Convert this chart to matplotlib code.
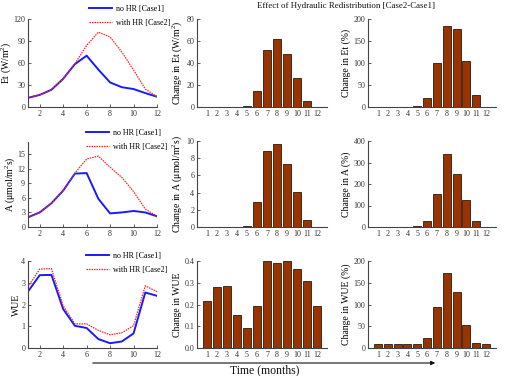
import matplotlib
matplotlib.use("Agg")
import matplotlib.pyplot as plt
import numpy as np

months = list(range(1, 13))

et_case1 = [12.5, 16.5, 23.5, 38.5, 58.5, 70.0, 51.0, 33.5, 27.0, 24.5, 19.0, 14.0]
et_case2 = [12.5, 16.5, 23.5, 38.5, 59.0, 84.0, 102.0, 95.5, 75.0, 50.5, 24.5, 14.0]
a_case1 = [2.0, 3.0, 4.9, 7.5, 11.0, 11.1, 5.8, 2.8, 3.0, 3.3, 3.0, 2.2]
a_case2 = [2.0, 3.0, 4.9, 7.5, 11.1, 14.0, 14.6, 12.3, 10.2, 7.3, 3.7, 2.2]
wue_case1 = [2.6, 3.35, 3.36, 1.79, 1.02, 0.92, 0.41, 0.22, 0.30, 0.67, 2.55, 2.40]
wue_case2 = [2.82, 3.63, 3.65, 1.94, 1.11, 1.11, 0.81, 0.61, 0.70, 1.03, 2.86, 2.59]

et_change = [0.1, 0.1, 0.1, 0.1, 0.8, 15.0, 51.5, 62.0, 48.5, 26.0, 5.5, 0.1]
et_pct = [0.5, 0.5, 0.5, 0.5, 1.5, 21.0, 101.0, 185.0, 177.0, 105.0, 26.5, 0.5]
a_change = [0.02, 0.02, 0.02, 0.02, 0.1, 2.95, 8.8, 9.6, 7.35, 4.1, 0.78, 0.02]
a_pct = [1, 1, 1, 1, 3, 29, 152, 340, 248, 126, 27, 1]
wue_change = [0.217, 0.282, 0.285, 0.154, 0.092, 0.191, 0.398, 0.392, 0.400, 0.362, 0.310, 0.194]
wue_pct = [8.5, 8.5, 8.5, 8.6, 9.0, 22.0, 95.0, 173.0, 128.0, 54.0, 11.5, 8.5]

FONT = "Liberation Serif"
plt.rcParams['font.family'] = [FONT, 'DejaVu Serif']
plt.rcParams['mathtext.fontset'] = 'custom'
plt.rcParams['mathtext.rm'] = FONT
plt.rcParams['mathtext.it'] = FONT + ':italic'

W, H = 509, 376
fig = plt.figure(figsize=(W / 100, H / 100), dpi=100)

def pos(x0, x1, ytop, ybot):
    return [x0 / W, 1 - ybot / H, (x1 - x0) / W, (ybot - ytop) / H]

cols = [(28, 157), (197, 327), (368, 496)]
rows = [(19, 107), (141, 227), (261, 348)]

bar_color = '#993300'
tick_fs = 5.8
lab_fs = 7.0

def style(ax):
    for s in ['top', 'right']:
        ax.spines[s].set_visible(False)
    for s in ['left', 'bottom']:
        ax.spines[s].set_color('#444444')
        ax.spines[s].set_linewidth(0.8)
    ax.tick_params(direction='in', length=2, width=0.6, labelsize=tick_fs,
                   colors='#444444', labelcolor='#333333', pad=2)

line_specs = [
    (et_case1, et_case2, 'Et (W/m$^2$)', (0, 120), [0, 30, 60, 90, 120]),
    (a_case1, a_case2, 'A (μmol/m$^2$s)', (0, 17.5), [0, 3, 6, 9, 12, 15]),
    (wue_case1, wue_case2, 'WUE', (0, 4), [0, 1, 2, 3, 4]),
]
bar_specs = [
    (et_change, 'Change in Et (W/m$^2$)', (0, 80), [0, 20, 40, 60, 80]),
    (a_change, 'Change in A (μmol/m$^2$s)', (0, 10), [0, 2, 4, 6, 8, 10]),
    (wue_change, 'Change in WUE', (0, 0.4), [0, 0.1, 0.2, 0.3, 0.4]),
]
pct_specs = [
    (et_pct, 'Change in Et (%)', (0, 200), [0, 50, 100, 150, 200]),
    (a_pct, 'Change in A (%)', (0, 400), [0, 100, 200, 300, 400]),
    (wue_pct, 'Change in WUE (%)', (0, 200), [0, 50, 100, 150, 200]),
]
legend_y = [5, 129, 252]
legend_x = [89, 86, 86]
rows_line = [(19, 107), (142, 227), (261, 348)]

for i in range(3):
    c1, c2, lab, yl, yt = line_specs[i]
    ax = fig.add_axes(pos(cols[0][0], cols[0][1], rows_line[i][0], rows_line[i][1]))
    ax.plot(months, c1, color='#1a1aff', lw=1.4, label='no HR [Case1]')
    ax.plot(months, c2, color='#ff2020', lw=0.9, ls=(0, (1.2, 0.8)), label='with HR [Case2]')
    ax.set_xlim(1, 12)
    ax.set_ylim(*yl)
    ax.set_xticks([2, 4, 6, 8, 10, 12])
    ax.set_yticks(yt)
    ax.set_ylabel(lab, fontsize=lab_fs, labelpad=0.5)
    style(ax)
    ax.legend(loc='upper left', bbox_to_anchor=(legend_x[i] / W, 1 - legend_y[i] / H),
              bbox_transform=fig.transFigure, frameon=False, fontsize=5.8,
              handlelength=2.8, handletextpad=0.5, labelspacing=0.75, borderaxespad=0,
              borderpad=0)

    for spec, col in ((bar_specs[i], cols[1]), (pct_specs[i], cols[2])):
        vals, lab, yl, yt = spec
        ax = fig.add_axes(pos(col[0], col[1], rows[i][0], rows[i][1]))
        ax.bar(months, vals, width=0.82, color=bar_color, edgecolor='#2a1a10', linewidth=0.6)
        ax.set_xlim(0, 13)
        ax.set_ylim(*yl)
        ax.set_xticks(months)
        ax.set_yticks(yt)
        ax.set_ylabel(lab, fontsize=lab_fs, labelpad=2)
        style(ax)
        ax.tick_params(axis='x', length=0)

fig.text(346 / W, 1 - 6 / H, 'Effect of Hydraulic Redistribution [Case2-Case1]',
         ha='center', va='center', fontsize=6.4, color='#111111')

fig.add_artist(matplotlib.patches.FancyArrowPatch(
    (90 / W, 1 - 363 / H), (438 / W, 1 - 363 / H), transform=fig.transFigure,
    arrowstyle='-|>', mutation_scale=6, color='#111111', lw=0.8))
fig.text(265 / W, 1 - 370 / H, 'Time (months)', ha='center', va='center',
         fontsize=8.5, color='#111111')

fig.savefig('out.png', dpi=100)
